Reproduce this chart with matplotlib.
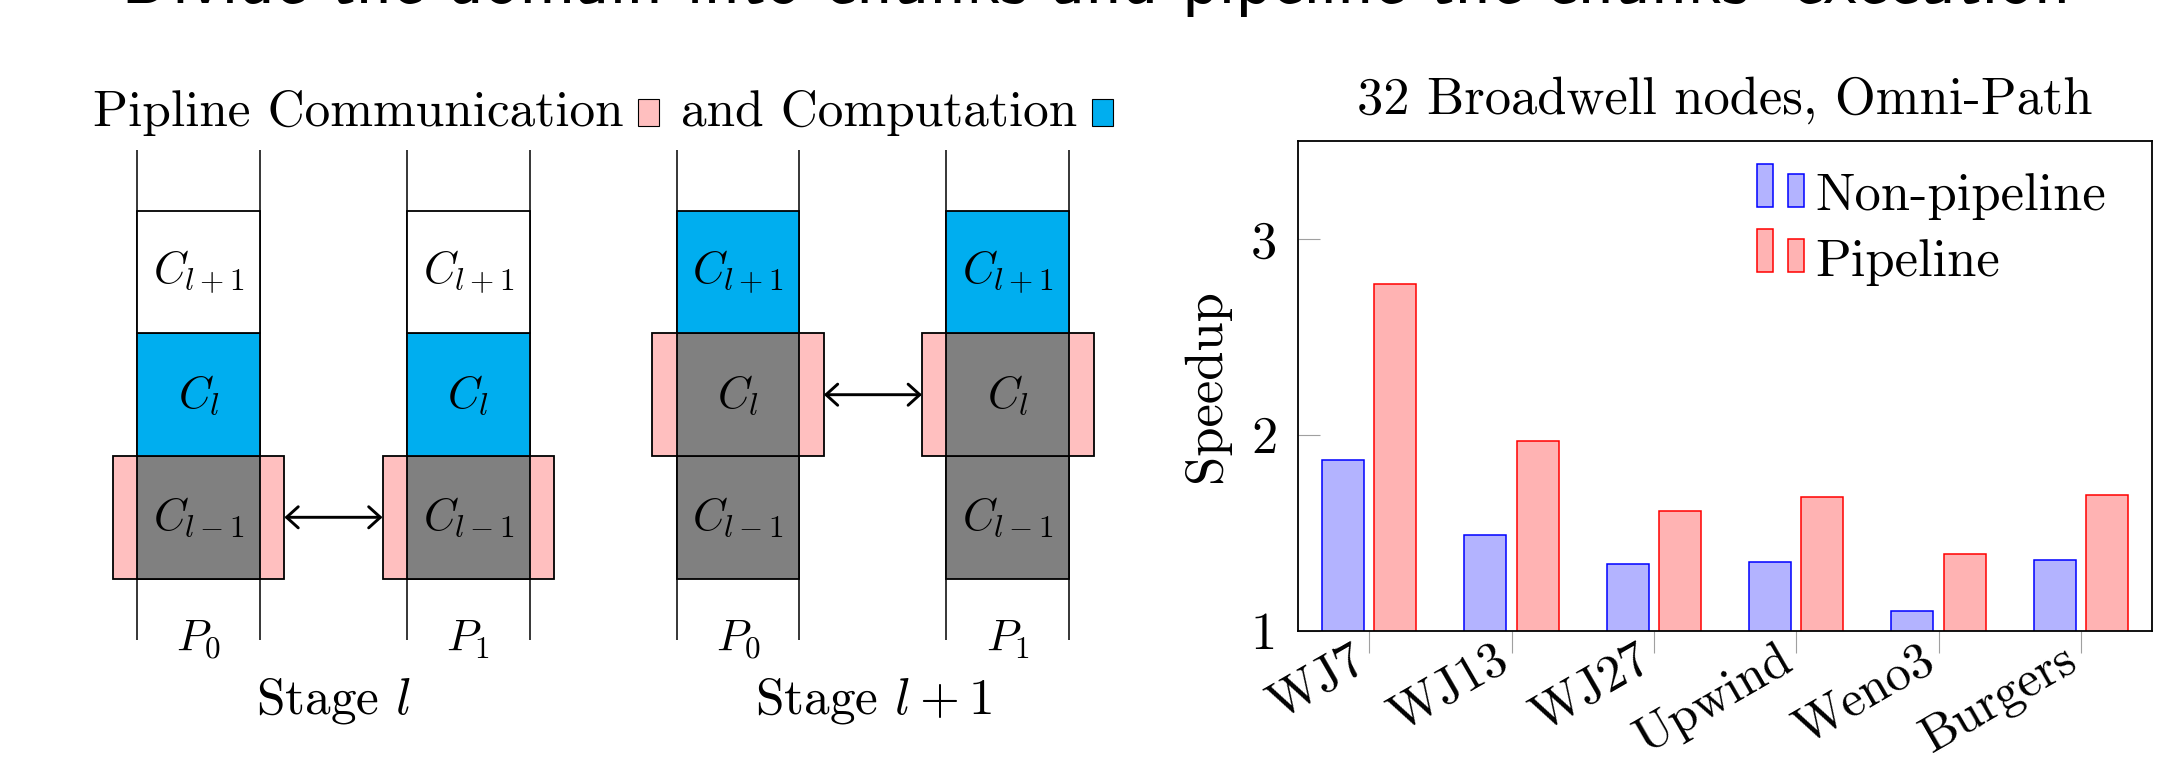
import matplotlib
matplotlib.use("Agg")
import matplotlib.pyplot as plt
import numpy as np
from matplotlib.patches import Rectangle, FancyArrowPatch
from matplotlib.legend_handler import HandlerBase
from matplotlib.container import BarContainer
from matplotlib.transforms import ScaledTranslation

# ---------------- data ----------------
page_title = "Divide the domain into chunks and pipeline the chunks' execution"
diagram_title_parts = ["Pipline Communication", "and Computation"]
chunk_labels = [r"$C_{l-1}$", r"$C_{l}$", r"$C_{l+1}$"]   # rows from bottom
proc_labels = [r"$P_0$", r"$P_1$"]
stage_labels = [r"Stage $l$", r"Stage $l+1$"]
comm_row = [0, 1]   # chunk being communicated (pink) in each stage
comp_row = [1, 2]   # chunk being computed (cyan) in each stage

chart_title = "32 Broadwell nodes, Omni-Path"
categories = ["WJ7", "WJ13", "WJ27", "Upwind", "Weno3", "Burgers"]
non_pipeline = [1.87, 1.49, 1.34, 1.35, 1.10, 1.36]
pipeline = [2.77, 1.97, 1.61, 1.68, 1.39, 1.69]
series_labels = ["Non-pipeline", "Pipeline"]
yticks = [1, 2, 3]
ytick_labels = ["1", "2", "3"]
ylabel = "Speedup"

# ---------------- style ----------------
plt.rcParams["font.family"] = ["cmr10", "DejaVu Serif"]
plt.rcParams["mathtext.fontset"] = "cm"
plt.rcParams["axes.unicode_minus"] = False
plt.rcParams["axes.formatter.use_mathtext"] = True

PINK = "#FFBFBF"
CYAN = "#00AEEF"
GRAY = "#808080"
BLUE_FILL = "#B3B3FF"
RED_FILL = "#FFB3B3"
TICK_GRAY = "#A0A0A0"

W, H, DPI = 2167, 761, 100
fig = plt.figure(figsize=(W / DPI, H / DPI), dpi=DPI)

# page title, mostly cut off at the top edge
fig.text(1096 / W, 1 - 3 / H, page_title, family=["cmss10", "DejaVu Sans"],
         fontsize=51, ha="center", va="baseline")

# ---------------- diagram ----------------
U = 122.6          # pixels per diagram unit
X0, Y0 = 137.3, 578.6
AXW = 1150
axd = fig.add_axes([0, 0, AXW / W, 1])
axd.set_xlim(-X0 / U, (AXW - X0) / U)
axd.set_ylim((Y0 - H) / U, Y0 / U)
axd.axis("off")

stage_offset = 4.4
proc_offset = 2.2
pink_w = 0.2
nrows = len(chunk_labels)

for s, stage in enumerate(stage_labels):
    sx = s * stage_offset
    for p, proc in enumerate(proc_labels):
        x0 = sx + p * proc_offset
        for xx in (x0, x0 + 1):
            axd.plot([xx, xx], [-0.5, nrows + 0.5], color="k", lw=1.1, zorder=1,
                     solid_capstyle="butt")
        r = comm_row[s]
        axd.add_patch(Rectangle((x0 - pink_w, r), 1 + 2 * pink_w, 1, fc=PINK,
                                ec="k", lw=1.3, zorder=2))
        for row, lab in enumerate(chunk_labels):
            if row <= comm_row[s]:
                fc = GRAY
            elif row == comp_row[s]:
                fc = CYAN
            else:
                fc = "white"
            axd.add_patch(Rectangle((x0, row), 1, 1, fc=fc, ec="k", lw=1.3, zorder=3))
            axd.text(x0 + 0.5, row + 0.5, lab, ha="center", va="center",
                     fontsize=32, zorder=4)
        axd.text(x0 + 0.5, -0.5, proc, ha="center", va="center", fontsize=32)
    r = comm_row[s]
    xa = sx + 1 + pink_w
    xb = sx + proc_offset - pink_w
    axd.add_patch(FancyArrowPatch((xa, r + 0.5), (xb, r + 0.5),
                                  arrowstyle="<->,head_length=0.42,head_width=0.38",
                                  mutation_scale=20, lw=2.1, color="k",
                                  shrinkA=0, shrinkB=0, zorder=5))
    axd.text(sx + (proc_offset + 1) / 2, -1.0, stage, ha="center", va="center",
             fontsize=37)

# diagram heading: text + coloured squares
renderer = fig.canvas.get_renderer()
base_v = 3.69
t1 = axd.text(0, base_v, diagram_title_parts[0], fontsize=37, ha="left", va="baseline")
t2 = axd.text(0, base_v, diagram_title_parts[1], fontsize=37, ha="left", va="baseline")
w1 = t1.get_window_extent(renderer).width / U
w2 = t2.get_window_extent(renderer).width / U
gap_ts, gap_st = 15 / U, 22 / U
sq_w, sq_h = 21 / U, 27 / U
total = w1 + gap_ts + sq_w + gap_st + w2 + gap_ts + sq_w
center = (-pink_w + stage_offset + proc_offset + 1 + pink_w) / 2
x = center - total / 2
t1.set_x(x)
x += w1 + gap_ts
axd.add_patch(Rectangle((x, base_v), sq_w, sq_h, fc=PINK, ec="k", lw=0.8))
x += sq_w + gap_st
t2.set_x(x)
x += w2 + gap_ts
axd.add_patch(Rectangle((x, base_v), sq_w, sq_h, fc=CYAN, ec="k", lw=0.8))

# ---------------- bar chart ----------------
L, R, T, B = 1298, 2152, 141, 630.6
axb = fig.add_axes([L / W, (H - B) / H, (R - L) / W, (B - T) / H])
xpos = np.arange(len(categories))
bw, off = 0.295, 0.183
bars1 = axb.bar(xpos - off, non_pipeline, bw, fc=BLUE_FILL, ec="blue", lw=1.1,
                label=series_labels[0], zorder=2)
bars2 = axb.bar(xpos + off, pipeline, bw, fc=RED_FILL, ec="red", lw=1.1,
                label=series_labels[1], zorder=2)
axb.set_xlim(-0.5, len(categories) - 0.5)
axb.set_ylim(1, 3.5)
axb.set_yticks(yticks)
axb.set_yticklabels(ytick_labels)
axb.set_xticks(xpos)
axb.set_xticklabels(categories, rotation=30, ha="right", va="top",
                    rotation_mode="anchor")
for sp in axb.spines.values():
    sp.set_linewidth(1.3)
    sp.set_zorder(3)
axb.tick_params(axis="y", direction="in", length=15.8, width=0.8, color=TICK_GRAY,
                pad=15, labelsize=37.8, right=False)
axb.tick_params(axis="x", direction="out", length=15.8, width=0.8, color=TICK_GRAY,
                pad=3, labelsize=36.5, top=False)
shift = ScaledTranslation(-19 / DPI, 20 / DPI, fig.dpi_scale_trans)
for lbl in axb.get_xticklabels():
    lbl.set_transform(lbl.get_transform() + shift)

axb.set_ylabel(ylabel, fontsize=37.8, va="center")
axb.yaxis.set_label_coords((1206 - L) / (R - L), 0.5)
axb.set_title(chart_title, fontsize=37.8, pad=19.9)


class HandlerTwoBars(HandlerBase):
    def create_artists(self, legend, orig_handle, xdescent, ydescent, width,
                       height, fontsize, trans):
        patch = orig_handle.patches[0]
        fc, ec, lw = patch.get_facecolor(), patch.get_edgecolor(), patch.get_linewidth()
        x0, y0 = -xdescent, -ydescent + 2.4
        bw_pt = 11.6
        r1 = Rectangle((x0, y0), bw_pt, 31.2, fc=fc, ec=ec, lw=lw, transform=trans)
        r2 = Rectangle((x0 + 22.3, y0), bw_pt, 24.0, fc=fc, ec=ec, lw=lw,
                       transform=trans)
        return [r1, r2]


axb.legend(handles=[bars1, bars2], labels=series_labels,
           handler_map={BarContainer: HandlerTwoBars()},
           loc="upper left", bbox_to_anchor=(1756.7 / W, 1 - 173.2 / H),
           bbox_transform=fig.transFigure, frameon=False, borderpad=0,
           borderaxespad=0, handlelength=0.894, handletextpad=0.22,
           labelspacing=0.35, fontsize=37.8)

fig.savefig("out.png", dpi=DPI)
